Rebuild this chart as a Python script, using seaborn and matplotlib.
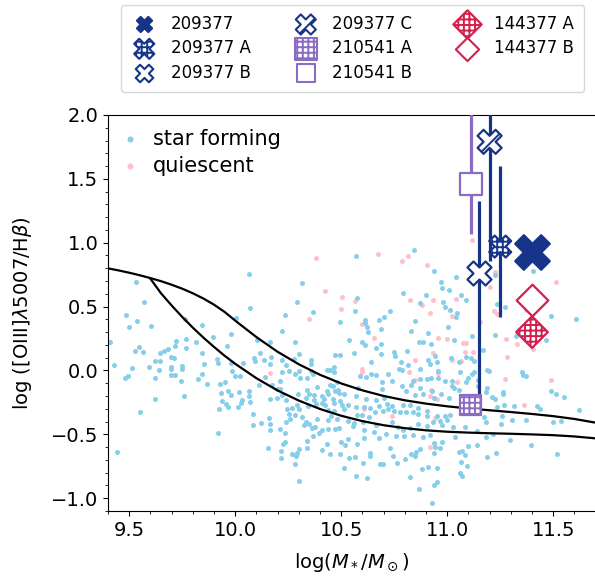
import numpy as np
import pandas as pd
import matplotlib
matplotlib.use("Agg")
import matplotlib.pyplot as plt
import seaborn as sns
from matplotlib.ticker import MultipleLocator

# ---------------- background samples ----------------
sf_mass = [10.067, 9.531, 9.569, 9.486, 9.497, 9.538, 9.605, 9.409, 9.528, 9.544,
           9.563, 9.426, 9.514, 9.493, 9.482, 9.593, 9.621, 9.643, 9.643, 9.666,
           9.681, 9.640, 9.621, 9.695, 9.709, 9.695, 9.695, 9.698, 9.718, 9.751,
           9.751, 9.744, 9.715, 9.721, 9.767, 9.766, 9.761, 9.817, 9.843, 9.843,
           9.854, 9.844, 9.824, 9.865, 9.894, 9.913, 9.917, 9.959, 9.981, 10.006,
           10.069, 9.979, 9.986, 10.000, 10.025, 10.039, 9.929, 9.951, 9.935, 9.968,
           9.978, 9.937, 9.956, 9.923, 9.968, 10.012, 10.020, 10.033, 10.028, 10.066,
           10.063, 10.069, 10.082, 10.083, 9.917, 9.622, 9.553, 9.443, 9.758, 10.088,
           10.093, 10.116, 10.135, 10.141, 10.113, 10.102, 10.166, 10.170, 10.165, 10.173,
           10.162, 10.124, 10.160, 10.162, 10.163, 10.157, 10.209, 10.220, 10.220, 10.237,
           10.291, 10.317, 10.280, 10.302, 10.221, 10.240, 10.277, 10.256, 10.281, 10.299,
           10.305, 10.196, 10.212, 10.223, 10.242, 10.199, 10.245, 10.254, 10.270, 10.291,
           10.300, 10.314, 10.294, 10.281, 10.258, 10.239, 10.212, 10.234, 10.233, 10.226,
           10.214, 10.214, 10.266, 10.291, 10.289, 10.281, 10.302, 10.303, 10.324, 10.332,
           10.346, 10.339, 10.339, 10.366, 10.361, 10.377, 10.394, 10.385, 10.344, 10.333,
           10.349, 10.338, 10.372, 10.387, 10.374, 10.382, 10.410, 10.421, 10.434, 10.440,
           10.409, 10.424, 10.438, 10.459, 10.473, 10.459, 10.448, 10.486, 10.465, 10.495,
           10.503, 10.511, 10.467, 10.451, 10.438, 10.481, 10.492, 10.472, 10.438, 10.410,
           10.435, 10.410, 10.449, 10.501, 10.520, 10.493, 10.539, 10.511, 10.533, 10.531,
           10.530, 10.539, 10.493, 10.473, 10.464, 10.432, 10.445, 10.465, 10.358, 10.358,
           10.357, 10.341, 10.368, 10.495, 10.369, 10.481, 10.492, 10.515,
           10.568, 10.845, 10.937, 11.043, 10.969, 10.974, 11.007, 10.790, 10.901, 11.066,
           11.088, 10.978, 10.874, 10.989, 11.013, 10.566, 10.730, 10.702, 10.676, 10.610,
           10.612, 10.623, 10.626, 10.689, 10.846, 10.829, 10.911, 11.005, 11.040, 11.044,
           11.030, 11.117, 11.225, 11.235, 11.271, 11.225, 11.324, 11.466, 11.491, 11.404,
           11.606, 10.560, 10.599, 10.613, 10.664, 10.689, 10.686, 10.749, 10.753, 10.812,
           10.868, 10.885, 10.922, 10.911, 10.941, 10.950, 11.018, 11.058, 11.113, 11.125,
           11.167, 11.186, 11.198, 11.128, 11.099, 11.087, 11.145, 11.145, 11.189, 11.184,
           11.211, 11.263, 11.313, 11.266, 11.357, 11.351, 11.370, 11.492, 11.511, 11.549,
           11.422, 11.439, 11.370, 11.304, 11.255, 11.216, 11.183, 11.142, 11.183, 11.175,
           11.258, 11.393, 11.294, 11.230, 11.187, 11.142, 11.085, 11.096, 11.084, 11.071,
           11.057, 11.063, 11.093, 11.062, 11.071, 10.950, 10.953, 10.939, 10.865, 10.926,
           10.909, 10.882, 10.824, 10.695, 10.681, 10.620, 10.568, 10.604, 10.634, 10.635,
           10.566, 10.573, 10.607, 10.678, 10.728, 10.744, 10.761, 10.802, 10.830, 10.851,
           10.871, 10.848, 10.937, 10.942, 10.966, 10.977, 10.936, 10.920, 10.884, 10.841,
           10.797, 10.790, 10.757, 10.711, 10.653, 10.607, 10.557, 10.602, 10.662, 10.739,
           10.766, 10.823, 10.860, 10.904, 10.934, 10.977, 10.997, 11.029, 11.038, 11.014,
           10.991, 10.967, 10.952, 10.904, 10.860, 10.837, 10.807, 10.779, 10.749, 10.719,
           10.695, 10.661, 10.632, 10.598, 10.574, 10.568, 10.609, 10.635, 10.678, 10.714,
           10.742, 10.790, 10.823, 10.860, 10.903, 10.700, 10.662, 10.617, 10.569, 10.580,
           10.617, 10.662, 10.692, 10.691, 10.742, 10.785, 10.808, 10.830, 10.848, 10.870,
           10.887, 10.930, 10.937, 10.970, 11.007, 11.030, 11.057, 11.024, 10.992, 10.958,
           10.925, 10.904, 10.871, 10.838, 10.785, 10.771, 10.722, 10.642, 10.588, 10.639,
           10.782, 10.813, 10.874, 10.918, 10.955, 11.091, 11.062, 11.025, 11.115, 11.235,
           11.225, 11.264, 10.573, 10.562, 11.500, 11.535, 11.519, 11.621]
sf_ratio = [0.758, 0.693, 0.536, 0.434, 0.337, 0.384, 0.348, 0.220, 0.152, 0.181,
            0.144, 0.042, 0.019, -0.044, -0.062, 0.029, 0.076, 0.076, 0.136, 0.152,
            0.170, 0.003, -0.057, 0.108, 0.097, 0.027, 0.008, -0.039, -0.039, 0.037,
            0.011, -0.086, 0.194, 0.233, 0.243, 0.176, 0.400, 0.223, 0.356, 0.139,
            0.053, -0.031, -0.065, -0.109, 0.259, 0.087, 0.055, 0.189, 0.283, 0.408,
            0.486, 0.058, -0.005, -0.044, -0.044, 0.061, -0.109, -0.091, -0.174, -0.159,
            -0.193, -0.242, -0.260, -0.300, -0.287, -0.287, -0.169, -0.232, -0.255, -0.161,
            -0.203, -0.250, -0.341, -0.425, -0.488, -0.227, -0.326, -0.639, -0.200, 0.097,
            0.074, 0.134, 0.082, -0.052, -0.117, 0.236, 0.220, 0.105, 0.048, -0.114,
            -0.221, -0.409, -0.370, -0.420, -0.464, -0.605, -0.080, -0.012, 0.311, 0.434,
            0.533, 0.685, 0.225, 0.131, 0.079, 0.042, 0.089, -0.005, -0.028, -0.002,
            -0.062, -0.148, -0.146, -0.193, -0.232, -0.219, -0.302, -0.339, -0.292, -0.274,
            -0.302, -0.365, -0.182, -0.349, -0.383, -0.407, -0.456, -0.490, -0.561, -0.574,
            -0.629, -0.689, -0.657, -0.644, -0.673, -0.736, -0.869, -0.616, -0.430, -0.401,
            -0.420, -0.553, -0.610, -0.514, -0.454, -0.446, -0.493, -0.380, -0.276, -0.219,
            -0.185, -0.153, -0.193, -0.130, -0.229, -0.260, -0.200, -0.224, -0.159, -0.187,
            -0.255, -0.271, -0.310, -0.227, -0.159, -0.125, -0.114, -0.151, -0.253, -0.242,
            -0.271, -0.305, -0.315, -0.360, -0.388, -0.380, -0.448, -0.459, -0.462, -0.467,
            -0.574, -0.624, -0.657, -0.561, -0.584, -0.657, -0.683, -0.764, -0.537, -0.271,
            -0.396, 0.238, 0.121, 0.118, 0.027, 0.001, 0.001, -0.012, 0.082, 0.050,
            -0.005, -0.060, -0.028, 0.379, 0.455, -0.088, -0.180, -0.187,
            0.896, 0.943, 0.781, 0.729, 0.693, 0.648, 0.630, 0.609, 0.588, 0.593,
            0.549, 0.536, 0.528, 0.494, 0.473, 0.465, 0.463, 0.416, 0.397, 0.397,
            0.369, 0.343, 0.303, 0.327, 0.384, 0.309, 0.290, 0.337, 0.416, 0.447,
            0.236, 0.272, 0.280, 0.518, 0.499, 0.747, 0.267, 0.238, 0.424, 0.779,
            0.405, 0.134, 0.220, 0.199, 0.178, 0.207, 0.131, 0.144, 0.110, 0.149,
            0.220, 0.220, 0.210, 0.084, 0.113, 0.068, 0.097, 0.066, 0.097, 0.071,
            0.157, 0.006, -0.005, -0.012, -0.057, -0.093, -0.075, -0.125, -0.140, -0.167,
            -0.206, -0.187, -0.276, -0.271, -0.036, -0.012, -0.044, -0.161, -0.187, -0.206,
            -0.279, -0.305, -0.388, -0.391, -0.422, -0.498, -0.519, -0.472, -0.401, -0.367,
            -0.357, -0.587, -0.543, -0.650, -0.681, -0.584, -0.441, -0.589, -0.663, -0.634,
            -0.639, -0.720, -0.746, -0.801, -0.824, -0.767, -0.877, -0.900, -0.931, -1.036,
            -0.757, -0.775, -0.838, -0.736, -0.731, -0.845, -0.827, -0.725, -0.647, -0.668,
            -0.676, -0.574, -0.532, -0.532, -0.605, -0.668, -0.725, -0.694, -0.652, -0.639,
            -0.618, -0.673, -0.650, -0.603, -0.605, -0.558, -0.566, -0.509, -0.519, -0.506,
            -0.511, -0.464, -0.511, -0.496, -0.480, -0.464, -0.438, -0.401, -0.428, -0.401,
            -0.441, -0.454, -0.417, -0.438, -0.401, -0.430, -0.388, -0.441, -0.522, -0.349,
            -0.357, -0.394, -0.360, -0.360, -0.344, -0.326, -0.323, -0.323, -0.315, -0.302,
            -0.321, -0.323, -0.362, -0.347, -0.352, -0.284, -0.284, -0.294, -0.281, -0.266,
            -0.276, -0.271, -0.271, -0.292, -0.318, -0.219, -0.229, -0.227, -0.203, -0.140,
            -0.052, -0.033, -0.093, -0.146, -0.083, -0.119, -0.159, -0.114, -0.195, -0.135,
            -0.187, -0.164, -0.216, -0.187, -0.219, -0.140, -0.156, -0.083, -0.083, -0.062,
            -0.062, -0.065, -0.070, -0.083, 0.003, 0.008, -0.025, -0.028, -0.041, 0.063,
            0.063, 0.042, 0.011, 0.050, -0.005, 0.102, -0.010, -0.125, -0.028, -0.284,
            -0.224, -0.169, 0.570, -0.409, -0.407, -0.396, -0.655, -0.313]

q_mass = [10.380, 10.424, 10.506, 10.497, 10.346, 10.163, 10.673, 10.786, 10.816, 10.907,
          11.118, 11.203, 11.227, 11.514, 10.565, 10.824, 10.881, 10.933, 10.920, 11.041,
          11.022, 11.219, 11.236, 11.374, 10.596, 10.654, 10.955, 10.997, 11.073, 11.088,
          11.085, 11.120, 11.277, 11.329, 11.403, 11.280, 10.846, 10.934, 11.025, 11.066,
          10.599, 10.596, 10.818, 10.849, 10.956, 11.044, 11.272, 11.488, 10.922, 10.917,
          10.953, 10.742, 10.941, 10.918, 11.360, 10.609, 11.156]
q_ratio = [0.880, 0.619, 0.572, 0.481, 0.403, -0.018, 0.909, 0.860, 0.894, 0.826,
           1.022, 0.656, 0.773, 0.695, 0.544, 0.549, 0.512, 0.554, 0.452, 0.559,
           0.429, 0.465, 0.442, 0.476, 0.361, 0.251, 0.254, 0.246, 0.212, 0.215,
           0.142, 0.144, 0.249, 0.209, 0.165, 0.102, 0.079, 0.139, 0.079, 0.074,
           0.011, -0.010, -0.015, -0.075, -0.023, -0.093, -0.067, -0.075, -0.156, -0.203,
           -0.227, -0.360, -0.375, -0.597, -0.271, -0.305, 0.377]

# ---------------- demarcation curves ----------------
upper_mass = [9.40, 9.45, 9.50, 9.55, 9.60, 9.65, 9.70, 9.75, 9.80, 9.85, 9.90, 9.95, 10.00,
              10.1, 10.2, 10.3, 10.4, 10.5, 10.6, 10.7, 10.8, 10.9, 11.0, 11.1, 11.2,
              11.3, 11.4, 11.5, 11.6, 11.7]
upper_ratio = [0.799, 0.783, 0.765, 0.745, 0.723, 0.699, 0.671, 0.640, 0.604, 0.563, 0.515,
               0.458, 0.390, 0.261, 0.146, 0.048, -0.034, -0.102, -0.156, -0.200, -0.234,
               -0.260, -0.281, -0.298, -0.312, -0.326, -0.341, -0.358, -0.380, -0.409]
lower_mass = [9.60, 9.65, 9.70, 9.75, 9.80, 9.85, 9.90, 9.95, 10.00,
              10.1, 10.2, 10.3, 10.4, 10.5, 10.6, 10.7, 10.8, 10.9, 11.0, 11.1, 11.2,
              11.3, 11.4, 11.5, 11.6, 11.7]
lower_ratio = [0.718, 0.604, 0.509, 0.419, 0.335, 0.257, 0.184, 0.115, 0.052,
               -0.061, -0.157, -0.236, -0.302, -0.355, -0.397, -0.429, -0.452, -0.469,
               -0.480, -0.487, -0.492, -0.496, -0.501, -0.507, -0.517, -0.532]

# ---------------- highlighted objects ----------------
obj_names = ["209377", "209377 A", "209377 B", "209377 C",
             "210541 A", "210541 B", "144377 A", "144377 B"]
obj_mass = [11.40, 11.25, 11.15, 11.20, 11.11, 11.11, 11.40, 11.40]
obj_ratio = [0.93, 0.97, 0.76, 1.79, -0.27, 1.46, 0.30, 0.55]
obj_err_lo = [np.nan, 0.55, 0.98, 0.93, np.nan, 0.39, np.nan, np.nan]
obj_err_hi = [np.nan, 0.63, 0.57, 0.50, np.nan, 0.60, np.nan, np.nan]

NAVY = "#16358a"
PURP = "#8b6cc4"
CRIM = "#d41f4c"
styles = {
    "209377":   dict(c=NAVY, m="X", h=None, filled=True, s=620, ls=120),
    "209377 A": dict(c=NAVY, m="X", h="+++", filled=False, s=250, ls=210),
    "209377 B": dict(c=NAVY, m="X", h=None, filled=False, s=300, ls=160),
    "209377 C": dict(c=NAVY, m="X", h="/", filled=False, s=300, ls=210),
    "210541 A": dict(c=PURP, m="s", h="+++", filled=False, s=220, ls=250),
    "210541 B": dict(c=PURP, m="s", h=None, filled=False, s=260, ls=160),
    "144377 A": dict(c=CRIM, m="D", h="+++", filled=False, s=260, ls=210),
    "144377 B": dict(c=CRIM, m="D", h=None, filled=False, s=260, ls=140),
}

plt.rcParams["hatch.linewidth"] = 1.4
fig = plt.figure(figsize=(5.95, 5.79), dpi=100)
ax = fig.add_axes([0.1815, 0.1176, 0.8195, 0.6838])

bg = pd.DataFrame({"mass": q_mass + sf_mass,
                   "ratio": q_ratio + sf_ratio,
                   "type": ["quiescent"] * len(q_mass) + ["star forming"] * len(sf_mass)})
sns.scatterplot(data=bg[bg["type"] == "quiescent"], x="mass", y="ratio", color="pink",
                s=13, linewidth=0, ax=ax, label="quiescent", zorder=1)
sns.scatterplot(data=bg[bg["type"] == "star forming"], x="mass", y="ratio", color="skyblue",
                s=13, linewidth=0, ax=ax, label="star forming", zorder=1)

sns.lineplot(x=upper_mass, y=upper_ratio, color="black", lw=1.6, ax=ax, zorder=2,
             sort=False, estimator=None)
sns.lineplot(x=lower_mass, y=lower_ratio, color="black", lw=1.6, ax=ax, zorder=2,
             sort=False, estimator=None)

for name, xm, yr, lo, hi in zip(obj_names, obj_mass, obj_ratio, obj_err_lo, obj_err_hi):
    st = styles[name]
    if not np.isnan(lo):
        ax.errorbar([xm], [yr], yerr=[[lo], [hi]], fmt="none", ecolor=st["c"],
                    elinewidth=2.3, capsize=0, zorder=3)
    fc = st["c"] if st["filled"] else "white"
    ax.scatter([xm], [yr], s=st["s"], marker=st["m"], facecolor=fc, edgecolor=st["c"],
               linewidths=1.6, hatch=st["h"], zorder=4)

ax.set_xlim(9.4, 11.7)
ax.set_ylim(-1.1, 2.0)
ax.xaxis.set_major_locator(MultipleLocator(0.5))
ax.xaxis.set_minor_locator(MultipleLocator(0.1))
ax.yaxis.set_major_locator(MultipleLocator(0.5))
ax.yaxis.set_minor_locator(MultipleLocator(0.1))
ax.tick_params(labelsize=14)
ax.set_xlabel(r"log($M_*/M_\odot$)", fontsize=14, labelpad=8)
ax.set_ylabel(r"log ([OIII]$\lambda$5007/H$\beta$)", fontsize=14, labelpad=12)

h, l = ax.get_legend_handles_labels()
order = [l.index("star forming"), l.index("quiescent")]
ax.legend([h[i] for i in order], [l[i] for i in order], loc="upper left", frameon=False,
          fontsize=15, handlelength=0.8, handletextpad=0.7, borderaxespad=0.25,
          labelspacing=0.35, markerscale=1.2)

proxies = []
for name in obj_names:
    st = styles[name]
    fc = st["c"] if st["filled"] else "white"
    p = ax.scatter([], [], s=st["ls"], marker=st["m"], facecolor=fc, edgecolor=st["c"],
                   linewidths=1.5, hatch=st["h"], label=name)
    proxies.append(p)
fig.legend(handles=proxies, labels=obj_names, ncol=3, loc="upper center",
           bbox_to_anchor=(0.5924, 1.006), fontsize=12, labelspacing=0.38,
           borderpad=0.6, handlelength=1.6, columnspacing=2.5, handletextpad=0.8)

fig.savefig("out.png", dpi=100)
